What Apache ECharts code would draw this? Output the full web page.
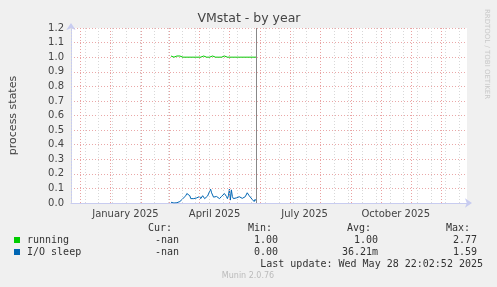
<!DOCTYPE html>
<html><head><meta charset="utf-8">
<script src="https://cdn.jsdelivr.net/npm/echarts@6/dist/echarts.min.js"></script>
<style>html,body{margin:0;padding:0;background:#f0f0f0}#c{width:497px;height:287px}</style>
</head><body><div id="c"></div>
<script>
// x values are days relative to 2025-01-01
const startDay = 61;            // first sample: 2025-03-02
const lastUpdateDay = 147;      // 2025-05-28
const tickValues = [15, 105, 196, 288];
const tickLabels = ['January 2025', 'April 2025', 'July 2025', 'October 2025'];
const monthStarts = [-31, 0, 31, 59, 90, 120, 151, 181, 212, 243, 273, 304, 334];
const weekLines = [-40, -26, -12, 2, 16, 30, 44, 58, 72, 86, 100, 114, 128, 142, 156, 170, 184, 198, 212, 226, 240, 254, 268, 282, 296, 310, 324, 338, 352];
const yTicks = [0.0, 0.1, 0.2, 0.3, 0.4, 0.5, 0.6, 0.7, 0.8, 0.9, 1.0, 1.1, 1.2];

const running = [
  1.008,1.008,1.00,1.00,1.00,1.008,1.008,1.00,1.00,1.008,
  1.008,1.00,1.00,1.00,1.008,1.00,1.00,1.008,1.00,1.00,
  1.00,1.00,1.00,1.00,1.00,1.008,1.008,1.00,1.00,1.008,
  1.00,1.00,1.008,1.008,1.00,1.00,1.00,1.008,1.008,1.00,
  1.00,1.00,1.008,1.00,1.00,1.00,1.00,1.00,1.00,1.00,
  1.00,1.00,1.00,1.00,1.008,1.00,1.00,1.00,1.00,1.00,
  1.00,1.00,1.00,1.00,1.00,1.00,1.00,1.00,1.00,1.00,
  1.00,1.008,1.00,1.00,1.00,1.00,1.00,1.00,1.00,1.00,
  1.00,1.00,1.00,1.00,1.00,1.00,1.00
];
const ioSleep = [
  0.005,0.003,0.002,0,0,0,0.002,0,0.005,0.01,
  0.015,0.02,0.03,0.035,0.04,0.05,0.065,0.075,0.06,0.05,
  0.03,0.035,0.04,0.03,0.025,0.04,0.035,0.03,0.04,0.045,
  0.03,0.035,0.05,0.04,0.03,0.04,0.035,0.048,0.06,0.08,
  0.095,0.07,0.055,0.04,0.03,0.048,0.045,0.043,0.035,0.03,
  0.043,0.045,0.048,0.055,0.065,0.055,0.045,0.03,0.05,0.095,
  0.02,0.09,0.045,0.03,0.025,0.04,0.035,0.03,0.038,0.043,
  0.03,0.033,0.032,0.025,0.022,0.043,0.055,0.07,0.06,0.05,
  0.045,0.04,0.025,0.015,0.01,0.025,0.015
];
const legendNames = ['running', 'I/O sleep'];
const legendColors = ['#00cc00', '#0066b3'];
const curVals = ['-nan', '-nan'];
const minVals = ['1.00', '0.00'];
const avgVals = ['1.00', '36.21m'];
const maxVals = ['2.77', '1.59'];

const pairs = arr => arr.map((v, i) => [startDay + i, v]);
const mono = 'DejaVu Sans Mono';
const txt = (x, y, text, align, extra) => ({
  type: 'text', x: x, y: y, silent: true,
  style: Object.assign({ text: text, fill: '#333', font: '10px ' + mono, align: align || 'left', verticalAlign: 'middle' }, extra || {})
});

const graphics = [
  txt(172, 228.5, 'Cur:', 'right'), txt(272, 228.5, 'Min:', 'right'),
  txt(371, 228.5, 'Avg:', 'right'), txt(470, 228.5, 'Max:', 'right')
];
legendNames.forEach((n, i) => {
  const y = 240 + i * 12;
  graphics.push({ type: 'rect', silent: true, shape: { x: 14, y: y - 3, width: 6, height: 6 }, style: { fill: legendColors[i] } });
  graphics.push(txt(27, y, n));
  graphics.push(txt(179, y, curVals[i], 'right'));
  graphics.push(txt(278, y, minVals[i], 'right'));
  graphics.push(txt(378, y, avgVals[i], 'right'));
  graphics.push(txt(477, y, maxVals[i], 'right'));
});
graphics.push(txt(483, 264, 'Last update: Wed May 28 22:02:52 2025', 'right'));
graphics.push({ type: 'text', x: 248, y: 276, silent: true, style: { text: 'Munin 2.0.76', fill: '#bbb', font: '8px "DejaVu Sans"', align: 'center', verticalAlign: 'middle' } });
graphics.push({ type: 'text', x: 487, y: 54, rotation: -Math.PI / 2, silent: true, style: { text: 'RRDTOOL / TOBI OETIKER', fill: '#c8c8c8', font: '7px "DejaVu Sans"', align: 'center', verticalAlign: 'middle' } });
graphics.push({ type: 'text', x: 249, y: 19, silent: true, style: { text: 'VMstat - by year', fill: '#444', font: '12.5px "DejaVu Sans"', align: 'center', verticalAlign: 'middle' } });

const chart = echarts.init(document.getElementById('c'), null, { renderer: 'canvas' });
chart.setOption({
  animation: false,
  backgroundColor: '#f0f0f0',
  graphic: graphics,
  grid: { left: 67, top: 28, width: 400, height: 175, show: true, backgroundColor: '#ffffff', borderWidth: 0 },
  xAxis: {
    type: 'value', min: -40, max: 360,
    axisLine: { show: true, onZero: false, lineStyle: { color: '#c8ccf0', width: 1 }, symbol: ['none', 'arrow'], symbolSize: [7, 7], symbolOffset: [0, 5] },
    axisTick: { show: false },
    splitLine: { show: false },
    axisLabel: {
      customValues: tickValues,
      formatter: v => tickLabels[tickValues.indexOf(v)] || '',
      color: '#444', fontFamily: 'DejaVu Sans', fontSize: 10, margin: 6
    }
  },
  yAxis: {
    type: 'value', min: 0, max: 1.2, interval: 0.1,
    name: 'process states', nameLocation: 'middle', nameGap: 52,
    nameTextStyle: { color: '#444', fontFamily: 'DejaVu Sans', fontSize: 11 },
    axisLine: { show: true, onZero: false, lineStyle: { color: '#c8ccf0', width: 1 }, symbol: ['none', 'arrow'], symbolSize: [7, 7], symbolOffset: [0, 5] },
    axisTick: { show: false },
    axisLabel: { formatter: v => v.toFixed(1), color: '#444', fontFamily: 'DejaVu Sans', fontSize: 10, margin: 7 },
    splitLine: { show: true, lineStyle: { color: '#eaa8a8', width: 1, type: [1, 2] } }
  },
  series: [
    {
      type: 'line', data: [], silent: true, z: 1,
      markLine: {
        silent: true, symbol: 'none', animation: false, label: { show: false },
        lineStyle: { color: '#d8d8d8', width: 1, type: [1, 2] },
        data: weekLines.map(d => ({ xAxis: d }))
      }
    },
    {
      type: 'line', data: [], silent: true, z: 1,
      markLine: {
        silent: true, symbol: 'none', animation: false, label: { show: false },
        lineStyle: { color: '#eaa0a0', width: 1, type: [1, 2] },
        data: monthStarts.map(d => ({ xAxis: d }))
      }
    },
    {
      name: legendNames[0], type: 'line', data: pairs(running), showSymbol: false, z: 3,
      lineStyle: { color: legendColors[0], width: 1 }, itemStyle: { color: legendColors[0] }
    },
    {
      name: legendNames[1], type: 'line', data: pairs(ioSleep), showSymbol: false, z: 3,
      lineStyle: { color: legendColors[1], width: 1 }, itemStyle: { color: legendColors[1] },
      markLine: {
        silent: true, symbol: 'none', animation: false, label: { show: false },
        lineStyle: { color: '#888', width: 1, type: 'solid' },
        data: [{ xAxis: lastUpdateDay }]
      }
    }
  ]
});
</script></body></html>
